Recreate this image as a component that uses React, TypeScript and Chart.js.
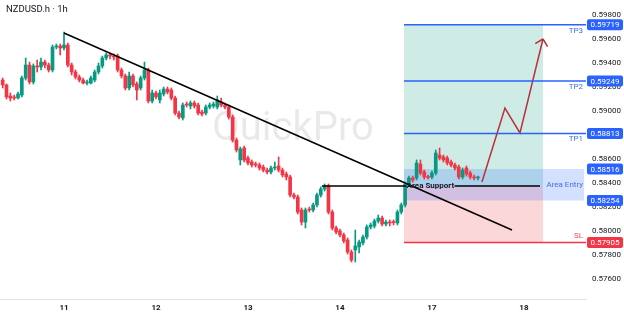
import React, { useEffect, useRef } from 'react';
import { Chart, registerables } from 'chart.js';

Chart.register(...registerables);

const symbolTitle = 'NZDUSD.h · 1h';
const watermarkText = 'QuickPro';

// hour index of the first candle (0 = day 11, 00:00)
const firstCandleHour = -16;

const opens = [
  0.59258, 0.59217, 0.59125, 0.59117, 0.59108, 0.59133, 0.59275, 0.59383, 0.59242, 0.59375,
  0.59367, 0.59408, 0.59383, 0.59342, 0.59533, 0.59542, 0.59525, 0.59550, 0.59383, 0.59325,
  0.59283, 0.59258, 0.59233, 0.59233, 0.59258, 0.59325, 0.59375, 0.59442, 0.59467, 0.59458,
  0.59458, 0.59342, 0.59292, 0.59192, 0.59292, 0.59225, 0.59192, 0.59275, 0.59342, 0.59083,
  0.59150, 0.59092, 0.59142, 0.59183, 0.59175, 0.59108, 0.58983, 0.58942, 0.59058, 0.59042,
  0.59067, 0.59050, 0.58992, 0.58983, 0.59033, 0.59042, 0.59033, 0.59075, 0.59050, 0.59033,
  0.58950, 0.58758, 0.58592, 0.58692, 0.58608, 0.58575, 0.58558, 0.58550, 0.58533, 0.58508,
  0.58492, 0.58525, 0.58542, 0.58508, 0.58475, 0.58450, 0.58300, 0.58283, 0.58175, 0.58075,
  0.58183, 0.58175, 0.58217, 0.58300, 0.58350, 0.58375, 0.58158, 0.58025, 0.58000, 0.57967,
  0.57925, 0.57825, 0.57842, 0.57867, 0.57900, 0.57950, 0.58033, 0.58042, 0.58083, 0.58108,
  0.58058, 0.58075, 0.58075, 0.58067, 0.58158, 0.58217, 0.58392, 0.58442, 0.58442, 0.58558,
  0.58492, 0.58450, 0.58450, 0.58483, 0.58633, 0.58617, 0.58608, 0.58575, 0.58550, 0.58533,
  0.58450, 0.58525, 0.58483, 0.58450, 0.58442,
];

const closes = [
  0.59217, 0.59117, 0.59108, 0.59108, 0.59142, 0.59275, 0.59383, 0.59242, 0.59375, 0.59367,
  0.59408, 0.59383, 0.59342, 0.59533, 0.59542, 0.59525, 0.59550, 0.59383, 0.59325, 0.59283,
  0.59258, 0.59233, 0.59242, 0.59275, 0.59325, 0.59375, 0.59442, 0.59467, 0.59458, 0.59450,
  0.59342, 0.59292, 0.59192, 0.59292, 0.59217, 0.59175, 0.59275, 0.59342, 0.59083, 0.59150,
  0.59117, 0.59150, 0.59183, 0.59158, 0.59108, 0.58983, 0.58950, 0.59050, 0.59050, 0.59067,
  0.59042, 0.58983, 0.58975, 0.59033, 0.59050, 0.59058, 0.59092, 0.59050, 0.59033, 0.58950,
  0.58758, 0.58675, 0.58683, 0.58592, 0.58567, 0.58550, 0.58550, 0.58525, 0.58508, 0.58492,
  0.58525, 0.58533, 0.58508, 0.58467, 0.58450, 0.58300, 0.58283, 0.58158, 0.58075, 0.58175,
  0.58175, 0.58217, 0.58300, 0.58350, 0.58375, 0.58158, 0.58025, 0.57992, 0.57967, 0.57917,
  0.57825, 0.57758, 0.57875, 0.57908, 0.57950, 0.58033, 0.58050, 0.58083, 0.58108, 0.58058,
  0.58075, 0.58067, 0.58070, 0.58158, 0.58217, 0.58392, 0.58442, 0.58425, 0.58567, 0.58483,
  0.58450, 0.58445, 0.58483, 0.58650, 0.58608, 0.58592, 0.58567, 0.58550, 0.58525, 0.58450,
  0.58508, 0.58475, 0.58450, 0.58442, 0.58450,
];

const highs = [
  0.59275, 0.59225, 0.59150, 0.59133, 0.59158, 0.59292, 0.59442, 0.59408, 0.59392, 0.59425,
  0.59442, 0.59425, 0.59400, 0.59550, 0.59558, 0.59558, 0.59658, 0.59567, 0.59400, 0.59342,
  0.59300, 0.59275, 0.59258, 0.59292, 0.59342, 0.59400, 0.59458, 0.59483, 0.59483, 0.59475,
  0.59475, 0.59358, 0.59308, 0.59325, 0.59308, 0.59242, 0.59292, 0.59408, 0.59358, 0.59175,
  0.59167, 0.59175, 0.59200, 0.59200, 0.59192, 0.59125, 0.59000, 0.59067, 0.59075, 0.59083,
  0.59083, 0.59067, 0.59008, 0.59050, 0.59067, 0.59075, 0.59125, 0.59108, 0.59067, 0.59050,
  0.58967, 0.58775, 0.58700, 0.58708, 0.58625, 0.58592, 0.58575, 0.58567, 0.58550, 0.58525,
  0.58542, 0.58575, 0.58617, 0.58525, 0.58492, 0.58467, 0.58317, 0.58300, 0.58192, 0.58192,
  0.58200, 0.58233, 0.58317, 0.58367, 0.58392, 0.58392, 0.58175, 0.58042, 0.58017, 0.57983,
  0.57942, 0.57842, 0.58008, 0.57925, 0.57967, 0.58050, 0.58067, 0.58100, 0.58133, 0.58125,
  0.58092, 0.58092, 0.58092, 0.58175, 0.58233, 0.58408, 0.58458, 0.58458, 0.58592, 0.58592,
  0.58508, 0.58467, 0.58500, 0.58675, 0.58692, 0.58633, 0.58625, 0.58592, 0.58567, 0.58550,
  0.58525, 0.58542, 0.58500, 0.58467, 0.58458,
];

const lows = [
  0.59192, 0.59100, 0.59083, 0.59092, 0.59100, 0.59117, 0.59258, 0.59225, 0.59225, 0.59325,
  0.59342, 0.59358, 0.59325, 0.59325, 0.59517, 0.59467, 0.59508, 0.59367, 0.59300, 0.59267,
  0.59242, 0.59225, 0.59217, 0.59225, 0.59242, 0.59308, 0.59358, 0.59425, 0.59433, 0.59425,
  0.59325, 0.59275, 0.59175, 0.59175, 0.59200, 0.59092, 0.59175, 0.59258, 0.59067, 0.59067,
  0.59100, 0.59067, 0.59125, 0.59142, 0.59092, 0.58967, 0.58933, 0.58925, 0.59033, 0.59017,
  0.59025, 0.58967, 0.58958, 0.58967, 0.59017, 0.59025, 0.59017, 0.59033, 0.59017, 0.58933,
  0.58742, 0.58658, 0.58550, 0.58575, 0.58550, 0.58533, 0.58533, 0.58508, 0.58492, 0.58475,
  0.58475, 0.58508, 0.58492, 0.58450, 0.58425, 0.58283, 0.58267, 0.58142, 0.58050, 0.58025,
  0.58158, 0.58158, 0.58200, 0.58283, 0.58333, 0.58142, 0.58008, 0.57975, 0.57950, 0.57900,
  0.57808, 0.57742, 0.57742, 0.57817, 0.57883, 0.57933, 0.58017, 0.58025, 0.58067, 0.58042,
  0.58042, 0.58042, 0.58050, 0.58050, 0.58142, 0.58200, 0.58375, 0.58408, 0.58425, 0.58467,
  0.58433, 0.58433, 0.58433, 0.58467, 0.58592, 0.58575, 0.58550, 0.58533, 0.58508, 0.58433,
  0.58433, 0.58458, 0.58433, 0.58425, 0.58425,
];

// x axis (hours from day 11 00:00)
const dayTickHours = [0, 24, 48, 72, 96, 120];
const dayTickLabels = ['11', '12', '13', '14', '17', '18'];

// y axis
const priceTicks = [0.576, 0.578, 0.58, 0.582, 0.584, 0.586, 0.588, 0.59, 0.592, 0.594, 0.596, 0.598];

// drawings
const trendLineHours = [0, 116.9];
const trendLinePrices = [0.5965, 0.58008];

const supportPrice = 0.58375;
const supportHours = [67.3, 89.3, 101.9, 124.2];
const supportLabel = 'Area Support';

const zoneHours = [88.7, 125.0];
const entryBandEndHour = 135.7;
const entryHigh = 0.58516;
const entryLow = 0.58254;
const entryLabel = 'Area Entry';

const targetPrices = [0.58813, 0.59249, 0.59719];
const targetLabels = ['TP1', 'TP2', 'TP3'];
const stopPrice = 0.57905;
const stopLabel = 'SL';

const arrowHours = [109.05, 115.05, 118.97, 124.97];
const arrowPrices = [0.58408, 0.59025, 0.58817, 0.596];

const X_MIN = -16.7;
const X_MAX = 136.2;
const Y_MIN = 0.574333;
const Y_MAX = 0.59925;

const GREEN = '#089981';
const RED = '#f23645';
const BLUE = '#2962ff';
const FONT = 'Roboto, "Noto Sans", sans-serif';

const overlayPlugin = {
  id: 'overlay',
  beforeDatasetsDraw(chart: any) {
    const { ctx, chartArea: a, scales } = chart;
    const x = scales.x;
    const y = scales.y;
    ctx.save();
    ctx.beginPath();
    ctx.rect(a.left, a.top, a.right - a.left, a.bottom - a.top);
    ctx.clip();
    // watermark
    ctx.fillStyle = 'rgba(0,0,0,0.085)';
    ctx.font = `40px ${FONT}`;
    ctx.textAlign = 'center';
    ctx.textBaseline = 'middle';
    ctx.fillText(watermarkText, a.left + (a.right - a.left) * 0.5, a.top + (a.bottom - a.top) * 0.435);

    const x0 = x.getPixelForValue(zoneHours[0]);
    const x1 = x.getPixelForValue(zoneHours[1]);
    const yTp = y.getPixelForValue(targetPrices[targetPrices.length - 1]);
    const yEntry = y.getPixelForValue(supportPrice);
    const ySl = y.getPixelForValue(stopPrice);
    ctx.fillStyle = 'rgba(8,153,129,0.2)';
    ctx.fillRect(x0, yTp, x1 - x0, yEntry - yTp);
    ctx.fillStyle = 'rgba(242,54,69,0.2)';
    ctx.fillRect(x0, yEntry, x1 - x0, ySl - yEntry);
    const xb = x.getPixelForValue(entryBandEndHour);
    const yb0 = y.getPixelForValue(entryHigh);
    const yb1 = y.getPixelForValue(entryLow);
    ctx.fillStyle = 'rgba(41,98,255,0.2)';
    ctx.fillRect(x0, yb0, xb - x0, yb1 - yb0);
    ctx.restore();
  },
  afterDatasetsDraw(chart: any) {
    const { ctx, scales } = chart;
    const x = scales.x;
    const y = scales.y;
    ctx.save();
    // arrow head
    const n = arrowHours.length;
    const tx = x.getPixelForValue(arrowHours[n - 1]);
    const ty = y.getPixelForValue(arrowPrices[n - 1]);
    const px = x.getPixelForValue(arrowHours[n - 2]);
    const py = y.getPixelForValue(arrowPrices[n - 2]);
    const ang = Math.atan2(py - ty, px - tx);
    ctx.strokeStyle = '#b8323c';
    ctx.lineWidth = 1.5;
    ctx.beginPath();
    for (const s of [-1, 1]) {
      const aa = ang + (s * Math.PI) / 4;
      ctx.moveTo(tx, ty);
      ctx.lineTo(tx + Math.cos(aa) * 9, ty + Math.sin(aa) * 9);
    }
    ctx.stroke();

    // Area Support label
    ctx.fillStyle = '#131722';
    ctx.font = `bold 8px ${FONT}`;
    ctx.textAlign = 'center';
    ctx.textBaseline = 'middle';
    const sx = (x.getPixelForValue(supportHours[1]) + x.getPixelForValue(supportHours[2])) / 2;
    ctx.fillText(supportLabel, sx, y.getPixelForValue(supportPrice));

    // TP / SL / entry labels
    const right = chart.chartArea.right - 3;
    ctx.font = `8px ${FONT}`;
    ctx.textAlign = 'right';
    ctx.fillStyle = '#3d6fe8';
    targetPrices.forEach((p, i) => {
      ctx.textBaseline = 'top';
      ctx.fillText(targetLabels[i], right, y.getPixelForValue(p) + 2);
    });
    ctx.textBaseline = 'middle';
    ctx.fillText(entryLabel, right, y.getPixelForValue(supportPrice) - 1);
    ctx.fillStyle = '#f0505d';
    ctx.textBaseline = 'bottom';
    ctx.fillText(stopLabel, right, y.getPixelForValue(stopPrice) - 2);
    ctx.restore();
  },
  afterDraw(chart: any) {
    const { ctx, scales, chartArea } = chart;
    const y = scales.y;
    ctx.save();
    // title
    ctx.fillStyle = '#131722';
    ctx.font = `9.5px ${FONT}`;
    ctx.textAlign = 'left';
    ctx.textBaseline = 'middle';
    ctx.fillText(symbolTitle, 6, 10);

    // price boxes
    const boxes: [number, string][] = [
      ...targetPrices.map((p) => [p, BLUE] as [number, string]),
      [entryHigh, BLUE],
      [entryLow, BLUE],
      [stopPrice, RED],
    ];
    ctx.font = `8px ${FONT}`;
    ctx.textAlign = 'center';
    ctx.textBaseline = 'middle';
    const bx = chartArea.right + 1;
    const bw = 36;
    for (const [p, c] of boxes) {
      const py = y.getPixelForValue(p);
      ctx.fillStyle = c;
      ctx.beginPath();
      (ctx as any).roundRect(bx, py - 5.5, bw, 11, 2);
      ctx.fill();
      ctx.fillStyle = '#ffffff';
      ctx.fillText(p.toFixed(5), bx + bw / 2, py + 0.5);
    }
    ctx.restore();
  },
};

export default function App() {
  const ref = useRef<HTMLCanvasElement | null>(null);

  useEffect(() => {
    if (!ref.current) return;
    const candleHours = opens.map((_, i) => firstCandleHour + i);
    const isUp = opens.map((o, i) => closes[i] >= o);
    const colors = isUp.map((u) => (u ? GREEN : RED));

    const line = (xs: number[], ys: (number | null)[], color: string, width: number) => ({
      type: 'line' as const,
      data: xs.map((v, i) => ({ x: v, y: ys[i] })),
      borderColor: color,
      borderWidth: width,
      pointRadius: 0,
      tension: 0,
      fill: false,
      spanGaps: false,
      order: 0,
    });

    const supportYs = [supportPrice, supportPrice, null, supportPrice, supportPrice];
    const supportXs = [supportHours[0], supportHours[1], (supportHours[1] + supportHours[2]) / 2, supportHours[2], supportHours[3]];

    const chart = new Chart(ref.current, {
      type: 'bar',
      data: {
        datasets: [
          {
            type: 'bar',
            data: candleHours.map((h, i) => ({ x: h, y: [opens[i], closes[i]] })),
            backgroundColor: colors,
            barThickness: 3,
            minBarLength: 1,
            grouped: false,
            order: 1,
          } as any,
          {
            type: 'bar',
            data: candleHours.map((h, i) => ({ x: h, y: [lows[i], highs[i]] })),
            backgroundColor: colors,
            barThickness: 1,
            grouped: false,
            order: 2,
          } as any,
          line(trendLineHours, trendLinePrices, '#000000', 1.5) as any,
          line(supportXs, supportYs, '#000000', 1.5) as any,
          ...targetPrices.map((p) => line([zoneHours[0], X_MAX], [p, p], BLUE, 1.5) as any),
          line([zoneHours[0], X_MAX], [stopPrice, stopPrice], RED, 1.5) as any,
          line(arrowHours, arrowPrices, '#b8323c', 1.5) as any,
        ],
      },
      options: {
        responsive: false,
        animation: false,
        layout: { padding: 0 },
        plugins: { legend: { display: false }, tooltip: { enabled: false } },
        scales: {
          x: {
            type: 'linear',
            min: X_MIN,
            max: X_MAX,
            offset: false,
            grid: { display: false, drawTicks: false },
            border: { display: true, color: '#e0e3eb' },
            ticks: {
              autoSkip: false,
              maxRotation: 0,
              padding: 4,
              color: '#131722',
              font: { family: FONT, size: 8, weight: 'bold' },
              callback: (v: any) => {
                const k = dayTickHours.indexOf(Number(v));
                return k >= 0 ? dayTickLabels[k] : '';
              },
            },
            afterBuildTicks: (s: any) => {
              s.ticks = dayTickHours.map((v) => ({ value: v }));
            },
            afterFit: (s: any) => {
              s.height = 17;
              s.paddingLeft = 0;
              s.paddingRight = 0;
            },
          } as any,
          y: {
            type: 'linear',
            position: 'right',
            min: Y_MIN,
            max: Y_MAX,
            grid: { display: false, drawTicks: false },
            border: { display: false },
            ticks: {
              padding: 6,
              color: '#131722',
              font: { family: FONT, size: 8 },
              callback: (v: any) => Number(v).toFixed(5),
            },
            afterBuildTicks: (s: any) => {
              s.ticks = priceTicks.map((v) => ({ value: v }));
            },
            afterFit: (s: any) => {
              s.width = 38;
              s.paddingTop = 0;
              s.paddingBottom = 0;
            },
          } as any,
        },
      },
      plugins: [overlayPlugin],
    });
    return () => chart.destroy();
  }, []);

  return (
    <div style={{ position: 'fixed', left: 0, top: 0, width: 624, height: 316, background: '#ffffff' }}>
      <canvas ref={ref} width={624} height={316} style={{ display: 'block' }} />
    </div>
  );
}
